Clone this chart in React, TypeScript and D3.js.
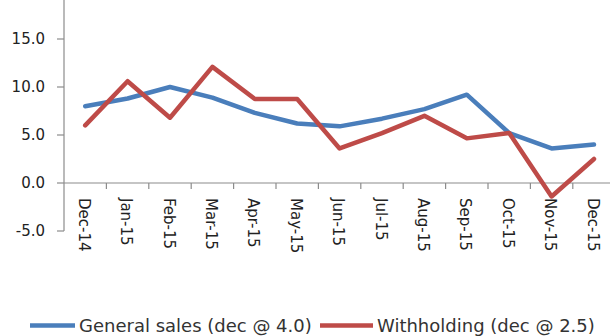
import React from "react";
import * as d3 from "d3";

const months = [
  "Dec-14", "Jan-15", "Feb-15", "Mar-15", "Apr-15", "May-15", "Jun-15",
  "Jul-15", "Aug-15", "Sep-15", "Oct-15", "Nov-15", "Dec-15",
];
const generalSales = [8.0, 8.8, 10.0, 8.9, 7.3, 6.2, 5.9, 6.7, 7.7, 9.2, 5.2, 3.6, 4.0];
const withholding = [6.0, 10.6, 6.8, 12.1, 8.75, 8.75, 3.6, 5.2, 7.0, 4.65, 5.2, -1.4, 2.5];
const yTicks = [-5, 0, 5, 10, 15];
const seriesNames = ["General sales (dec @ 4.0)", "Withholding (dec @ 2.5)"];
const seriesColors = ["#4A7EBB", "#BE4B48"];

const W = 610;
const H = 336;
const left = 64;
const bandW = 42.4;
const font = "'DejaVu Sans', Verdana, sans-serif";

export default function App() {
  const x = d3.scaleBand<string>().domain(months).range([left, left + bandW * months.length]).padding(0);
  const y = d3.scaleLinear().domain([-5, 20]).range([231, -9]);
  const cx = (m: string) => (x(m) as number) + x.bandwidth() / 2;

  const line = d3
    .line<number>()
    .x((_, i) => cx(months[i]))
    .y((v) => y(v));

  const axisColor = "#8c8c8c";
  const right = left + bandW * months.length;
  const legendY = 325.5;

  return (
    <div style={{ position: "absolute", left: 0, top: 0 }}>
      <svg width={W} height={H} style={{ display: "block", background: "#fff" }}>
        {/* value axis */}
        <line x1={left} x2={left} y1={y(20)} y2={y(-5)} stroke={axisColor} strokeWidth={1.2} />
        {yTicks.map((t) => (
          <g key={t}>
            <line x1={left - 7} x2={left} y1={y(t)} y2={y(t)} stroke={axisColor} strokeWidth={1.2} />
            <text
              x={45}
              y={y(t)}
              dy="0.36em"
              textAnchor="end"
              fontFamily={font}
              fontSize={15}
              fill="#222"
            >
              {t.toFixed(1)}
            </text>
          </g>
        ))}

        {/* category axis on the zero line */}
        <line x1={left} x2={right} y1={y(0)} y2={y(0)} stroke={axisColor} strokeWidth={1.2} />
        {months.slice(1).map((m) => (
          <line
            key={"t" + m}
            x1={x(m) as number}
            x2={x(m) as number}
            y1={y(0)}
            y2={y(0) + 6}
            stroke={axisColor}
            strokeWidth={1.2}
          />
        ))}
        {months.map((m) => (
          <text
            key={"l" + m}
            transform={`translate(${cx(m) - 1},${y(0) + 15}) rotate(90)`}
            dy="0.36em"
            textAnchor="start"
            fontFamily={font}
            fontSize={15}
            fill="#222"
          >
            {m}
          </text>
        ))}

        {/* series */}
        {[generalSales, withholding].map((s, k) => (
          <path
            key={k}
            d={line(s) as string}
            fill="none"
            stroke={seriesColors[k]}
            strokeWidth={4.5}
            strokeLinejoin="round"
            strokeLinecap="round"
          />
        ))}

        {/* legend */}
        <line x1={30} x2={75} y1={legendY} y2={legendY} stroke={seriesColors[0]} strokeWidth={4.5} />
        <text x={79} y={legendY + 6.5} fontFamily={font} fontSize={18} fill="#333">
          {seriesNames[0]}
        </text>
        <line x1={320} x2={373} y1={legendY} y2={legendY} stroke={seriesColors[1]} strokeWidth={4.5} />
        <text x={377} y={legendY + 6.5} fontFamily={font} fontSize={18} fill="#333">
          {seriesNames[1]}
        </text>
      </svg>
    </div>
  );
}
